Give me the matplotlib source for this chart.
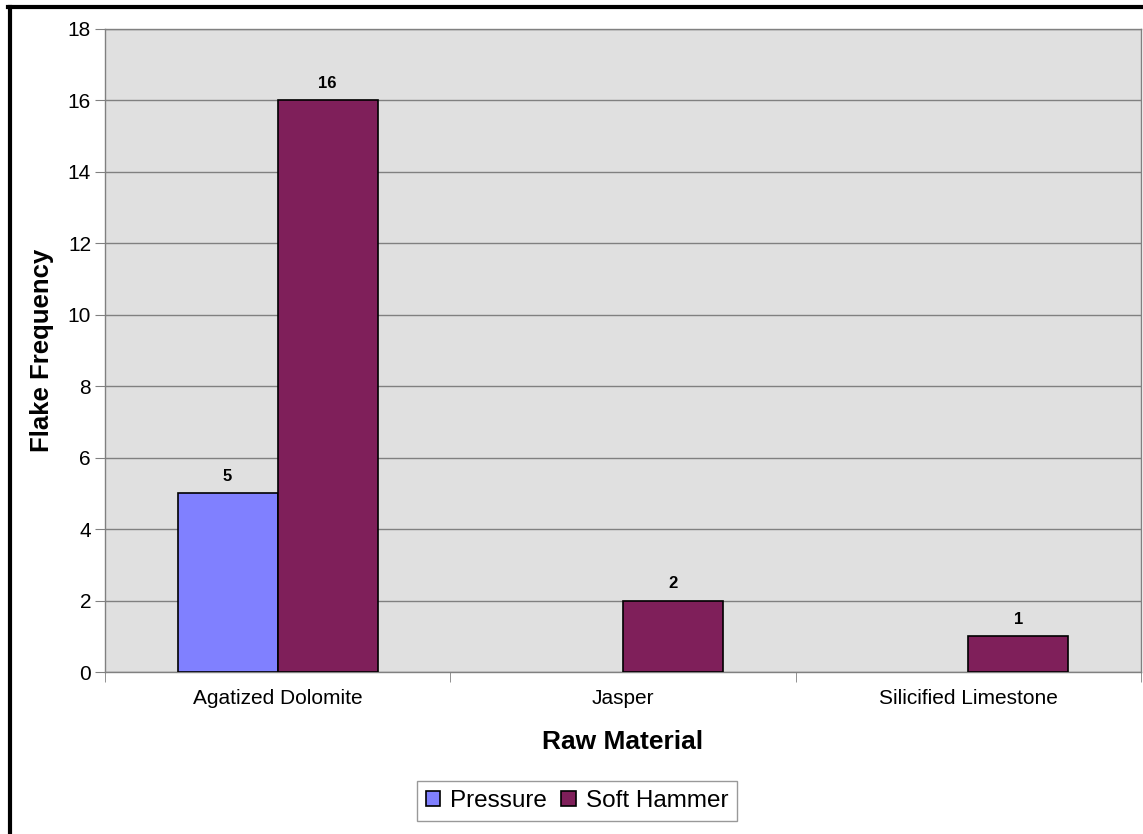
import numpy as np
import matplotlib
matplotlib.use("Agg")
import matplotlib.pyplot as plt
from matplotlib.lines import Line2D

# данные графика
materials = ["Agatized Dolomite", "Jasper", "Silicified Limestone"]
pressure = [5, 0, 0]
soft_hammer = [16, 2, 1]
series_names = ["Pressure", "Soft Hammer"]

plt.rcParams['font.family'] = ['Liberation Sans', 'DejaVu Sans']

fig = plt.figure(figsize=(11.43, 8.34), dpi=100)
ax = fig.add_axes([105 / 1143, 1 - 672 / 834, (1141 - 105) / 1143, (672 - 29) / 834])
ax.set_facecolor("#E0E0E0")

x = np.arange(len(materials))
w = 100 / 345
bars_p = ax.bar(x - w / 2, pressure, w, color="#8080FF", edgecolor="black", linewidth=1.2,
                label=series_names[0], zorder=3)
bars_s = ax.bar(x + w / 2, soft_hammer, w, color="#7F1F5A", edgecolor="black", linewidth=1.2,
                label=series_names[1], zorder=3)

# подписи значений над столбцами (нулевые не подписываем и не обводим)
for bars in (bars_p, bars_s):
    for b in bars:
        h = b.get_height()
        if h > 0:
            ax.annotate(f"{h:g}", (b.get_x() + b.get_width() / 2, h), xytext=(0, 7),
                        textcoords="offset points", ha="center", va="bottom",
                        fontsize=12, fontweight="bold")
        else:
            b.set_linewidth(0)

ax.set_xlim(-0.5, 2.5)
ax.set_ylim(0, 18)
ax.set_yticks(range(0, 19, 2))
ax.yaxis.grid(True, color="#808080", linewidth=1, zorder=0)
ax.set_axisbelow(True)

ax.set_xticks(x)
ax.set_xticklabels(materials, fontsize=15)
ax.tick_params(axis="x", which="major", length=0, pad=12)
ax.set_xticks([-0.5, 0.5, 1.5, 2.5], minor=True)
ax.tick_params(axis="x", which="minor", length=7, color="#808080")
ax.tick_params(axis="y", labelsize=15, length=7, color="#808080", pad=3)

for s in ax.spines.values():
    s.set_color("#808080")
    s.set_linewidth(1)

ax.set_xlabel("Raw Material", fontsize=19, fontweight="bold", labelpad=16)
ax.set_ylabel("Flake Frequency", fontsize=18.5, fontweight="bold", labelpad=10)

fig.legend(loc="center", bbox_to_anchor=(577 / 1143, 1 - 801 / 834), ncol=2, fontsize=17.5,
           frameon=True, fancybox=False, edgecolor="#808080", handlelength=0.6,
           handleheight=0.6, handletextpad=0.4, columnspacing=0.6, borderpad=0.35)

# чёрная рамка слева и сверху
fig.add_artist(Line2D([9.5 / 1143, 9.5 / 1143], [0, 1 - 7 / 834], color="black", linewidth=3,
                      transform=fig.transFigure))
fig.add_artist(Line2D([8 / 1143, 1], [1 - 7 / 834, 1 - 7 / 834], color="black", linewidth=3,
                      transform=fig.transFigure))

fig.savefig("out.png", dpi=100)
